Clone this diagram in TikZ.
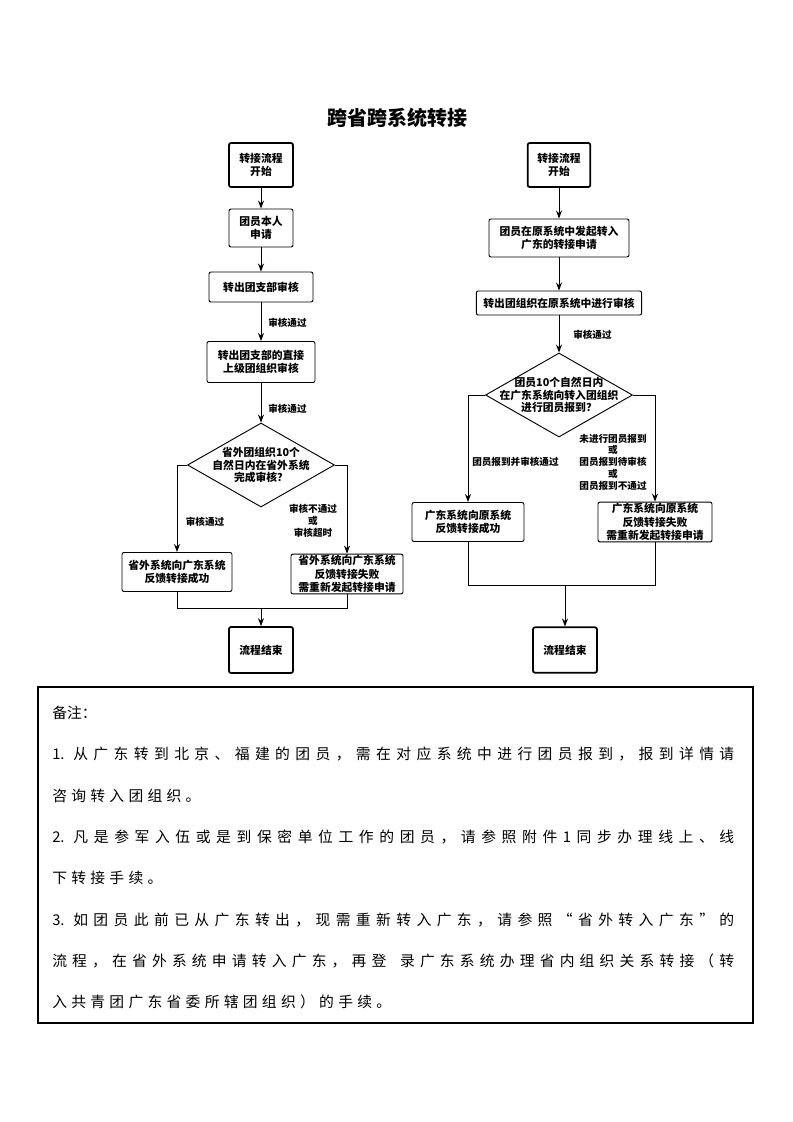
\documentclass[tikz,border=0pt]{standalone}
\usepackage{fontspec}
\newfontfamily\cjk{Noto Sans CJK SC}
\usetikzlibrary{shapes.geometric,arrows.meta}
\def\ngap{\hfil}
\def\nspreadA#1{#1\nspreadB}
\def\nspreadB#1{\ifx\relax#1\else\ngap#1\expandafter\nspreadB\fi}
\newcommand\fullline[1]{\hbox to 511.5pt{\def\ngap{\hfil}\nspreadA#1\relax}}
\newcommand\spacedline[1]{\hbox{\def\ngap{\hskip3.2pt}\nspreadA#1\relax}}
\begin{document}
\begin{tikzpicture}[x=0.75pt,y=-0.75pt,
  box/.style={draw, line width=0.7pt, rounded corners=1.5pt, align=center, inner sep=1pt,
    font=\cjk\bfseries\fontsize{8.1pt}{10pt}\selectfont},
  termbox/.style={box, line width=1.3pt},
  dia/.style={draw, diamond, line width=0.7pt, inner sep=0pt},
  dtext/.style={align=center, inner sep=0pt, font=\cjk\bfseries\fontsize{8.1pt}{9.5pt}\selectfont},
  lab/.style={align=center, inner sep=0pt, font=\cjk\bfseries\fontsize{7.2pt}{8.8pt}\selectfont},
  conn/.style={line width=0.75pt},
  arr/.style={conn, -{Stealth[length=6pt,width=4.5pt]}},
  note/.style={anchor=west, inner sep=0pt, font=\cjk\fontsize{11.1pt}{14pt}\selectfont}
]
\useasboundingbox (0,0) rectangle (793,1122);

% title
\node[inner sep=0pt, font=\cjk\bfseries\fontsize{15pt}{18pt}\selectfont] (title) at (397,118) {跨省跨系统转接};

% left column
\node[termbox, minimum width=48pt, minimum height=33pt] (L1) at (261,165) {转接流程\\开始};
\node[box, minimum width=48pt, minimum height=28.5pt] (L2) at (261,228) {团员本人\\申请};
\node[box, minimum width=78pt, minimum height=22.5pt] (L3) at (261,287) {转出团支部审核};
\node[box, minimum width=81pt, minimum height=30.75pt] (L4) at (261,362) {转出团支部的直接\\上级团组织审核};
\node[dia, minimum width=110.25pt, minimum height=63pt] (LD) at (261,465) {};
\node[dtext] (LDt) at (LD.center) {省外团组织10个\\自然日内在省外系统\\完成审核？};
\node[box, minimum width=82.5pt, minimum height=29.25pt] (L5) at (177,572) {省外系统向广东系统\\反馈转接成功};
\node[box, minimum width=84pt, minimum height=29.5pt] (L6) at (347,574) {省外系统向广东系统\\反馈转接失败\\需重新发起转接申请};
\node[termbox, minimum width=48pt, minimum height=34.5pt] (L7) at (261,650) {流程结束};
\coordinate (LJ) at (261,608);

\draw[arr] (L1) -- (L2);
\draw[arr] (L2) -- (L3);
\draw[arr] (L3) -- (L4);
\draw[arr] (L4) -- (LD.north);
\draw[arr] (LD.west) -| (L5.north);
\draw[arr] (LD.east) -| (L6.north);
\draw[conn] (L5.south) |- (LJ) -| (L6.south);
\draw[arr] (LJ) -- (L7.north);

\node[lab, anchor=west] (la1) at (268,323) {审核通过};
\node[lab, anchor=west] (la2) at (268,409) {审核通过};
\node[lab] (la3) at (205,522) {审核通过};
\node[lab] (la4) at (313,521) {审核不通过\\或\\审核超时};

% right column
\node[termbox, minimum width=47pt, minimum height=33pt] (R1) at (559,165) {转接流程\\开始};
\node[box, minimum width=105pt, minimum height=28.5pt] (R2) at (559,238) {团员在原系统中发起转入\\广东的转接申请};
\node[box, minimum width=124pt, minimum height=18pt] (R3) at (559,303) {转出团组织在原系统中进行审核};
\node[dia, minimum width=110.25pt, minimum height=63pt] (RD) at (559,395) {};
\node[dtext] (RDt) at (RD.center) {团员10个自然日内\\在广东系统向转入团组织\\进行团员报到？};
\node[box, minimum width=84pt, minimum height=29.25pt] (R4) at (468,522) {广东系统向原系统\\反馈转接成功};
\node[box, minimum width=85.5pt, minimum height=29.25pt] (R5) at (655,522) {广东系统向原系统\\反馈转接失败\\需重新发起转接申请};
\node[termbox, minimum width=48pt, minimum height=34pt] (R6) at (565,650) {流程结束};
\coordinate (RJ) at (565,585);

\draw[arr] (R1) -- (R2);
\draw[arr] (R2) -- (R3);
\draw[arr] (R3) -- (RD.north);
\draw[arr] (RD.west) -| (R4.north);
\draw[arr] (RD.east) -| (R5.north);
\draw[conn] (R4.south) |- (RJ) -| (R5.south);
\draw[arr] (RJ) -- (R6.north);

\node[lab, anchor=west] (ra1) at (573,335) {审核通过};
\node[lab, anchor=west] (ra2) at (472,462) {团员报到并审核通过};
\node[lab] (ra3) at (613,462) {未进行团员报到\\或\\团员报到待审核\\或\\团员报到不通过};

% note box
\node[draw, line width=0.8pt, minimum width=536.25pt, minimum height=252pt, inner sep=0pt] (notebox) at (395.5,855) {};
\node[note] (n0) at (52,713) {备注：};
\node[note] (n1) at (52,754) {\fullline{{1.~}从广东转到北京、福建的团员，需在对应系统中进行团员报到，报到详情请}};
\node[note] (n2) at (52,796) {\spacedline{咨询转入团组织。}};
\node[note] (n3) at (52,837) {\fullline{{2.~}凡是参军入伍或是到保密单位工作的团员，请参照附件{1}同步办理线上、线}};
\node[note] (n4) at (52,878) {\spacedline{下转接手续。}};
\node[note] (n5) at (52,920) {\fullline{{3.~}如团员此前已从广东转出，现需重新转入广东，请参照“省外转入广东”的}};
\node[note] (n6) at (52,961) {\fullline{流程，在省外系统申请转入广东，再登{~}录广东系统办理省内组织关系转接（转}};
\node[note] (n7) at (52,1002) {\spacedline{入共青团广东省委所辖团组织）的手续。}};
\end{tikzpicture}
\end{document}
